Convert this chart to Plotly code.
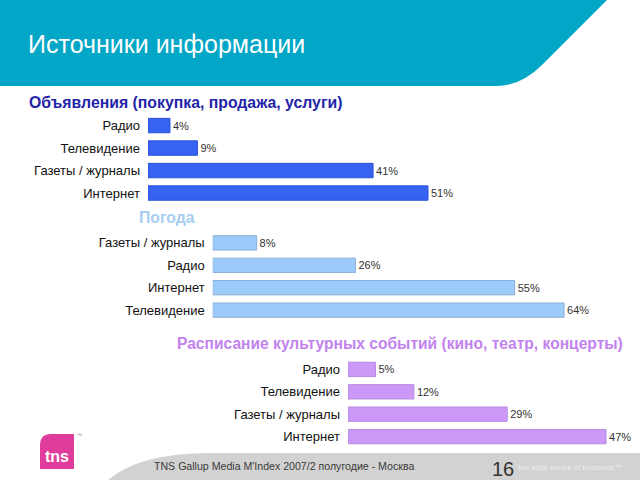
import plotly.graph_objects as go

# ---------------- data ----------------
ads_cats = ["Радио", "Телевидение", "Газеты / журналы", "Интернет"]
ads_vals = [4, 9, 41, 51]

weather_cats = ["Газеты / журналы", "Радио", "Интернет", "Телевидение"]
weather_vals = [8, 26, 55, 64]

culture_cats = ["Радио", "Телевидение", "Газеты / журналы", "Интернет"]
culture_vals = [5, 12, 29, 47]

main_title = "Источники информации"
panel_titles = [
    "Объявления (покупка, продажа, услуги)",
    "Погода",
    "Расписание культурных событий (кино, театр, концерты)",
]
footer_text = "TNS Gallup Media M'Index 2007/2 полугодие - Москва"
page_number = "16"
slogan = "the sixth sense of business™"

# ---------------- layout helpers ----------------
W, H = 640, 480
S = 5.49  # pixels per percentage point (same in all panels)

def px(x):
    return x / W

def py(y):
    return 1 - y / H

FONT = "Liberation Sans, Arial, sans-serif"

panels = [
    # cats, vals, fill, line, bar-start px, range max, y-center px, cat spacing px
    (ads_cats, ads_vals, "#3763F2", "#2A50D8", 148.0, 70, 159.3, 22.5),
    (weather_cats, weather_vals, "#9CCBFA", "#8DB0D8", 212.7, 70, 276.5, 22.4),
    (culture_cats, culture_vals, "#CC99F8", "#B58CE0", 348.0, 50, 403.0, 22.4),
]

fig = go.Figure()
layout_axes = {}
for i, (cats, vals, fill, line, x0, rmax, yc, sp) in enumerate(panels, start=1):
    xa = "x" if i == 1 else f"x{i}"
    ya = "y" if i == 1 else f"y{i}"
    fig.add_trace(go.Bar(
        x=vals, y=cats, orientation="h",
        xaxis=xa, yaxis=ya,
        marker=dict(color=fill, line=dict(color=line, width=1)),
        width=0.64,
        text=[f"{v}%" for v in vals],
        textposition="outside",
        textfont=dict(family=FONT, size=11, color="#333333"),
        cliponaxis=False,
        showlegend=False,
        hoverinfo="skip",
    ))
    xkey = "xaxis" if i == 1 else f"xaxis{i}"
    ykey = "yaxis" if i == 1 else f"yaxis{i}"
    layout_axes[xkey] = dict(
        domain=[px(x0), px(x0 + S * rmax)], range=[0, rmax],
        visible=False, fixedrange=True, anchor=ya,
    )
    half = 2 * sp
    layout_axes[ykey] = dict(
        domain=[py(yc + half), py(yc - half)],
        type="category", categoryarray=cats, categoryorder="array",
        autorange="reversed", showgrid=False, showline=False, zeroline=False,
        ticks="", ticklabelstandoff=7,
        tickfont=dict(family=FONT, size=13, color="#111111"),
        anchor=xa, fixedrange=True,
    )

fig.update_layout(**layout_axes)

shapes = [
    # teal header band with cut corner
    dict(type="path", xref="paper", yref="paper", layer="below",
         path=(f"M 0 1 L {px(607)} 1 L {px(543)} {py(64)} "
               f"Q {px(521)} {py(86)} {px(497)} {py(86)} L 0 {py(86)} Z"),
         fillcolor="#02A6C7", line=dict(width=0)),
    # grey footer swoosh
    dict(type="path", xref="paper", yref="paper", layer="below",
         path=(f"M {px(108)} 0 Q {px(140)} {py(453)} {px(210)} {py(453)} "
               f"L 1 {py(453)} L 1 0 Z"),
         fillcolor="#D2D2D2", line=dict(width=0)),
    # tns logo
    dict(type="path", xref="paper", yref="paper", layer="below",
         path=(f"M {px(40)} {py(444)} Q {px(41)} {py(434)} {px(50)} {py(434)} "
               f"L {px(74)} {py(434)} L {px(74)} {py(469)} L {px(40)} {py(469)} Z"),
         fillcolor="#E03C9C", line=dict(width=0)),
]

annotations = [
    dict(text=main_title, x=px(26), y=py(44), xref="paper", yref="paper",
         xanchor="left", yanchor="middle", showarrow=False,
         font=dict(family=FONT, size=25, color="white")),
    dict(text=f"<b>{panel_titles[0]}</b>", x=px(27), y=py(102), xref="paper", yref="paper",
         xanchor="left", yanchor="middle", showarrow=False,
         font=dict(family=FONT, size=15.8, color="#2424A8")),
    dict(text=f"<b>{panel_titles[1]}</b>", x=px(137), y=py(218), xref="paper", yref="paper",
         xanchor="left", yanchor="middle", showarrow=False,
         font=dict(family=FONT, size=15.8, color="#A6CDF2")),
    dict(text=f"<b>{panel_titles[2]}</b>", x=px(175), y=py(343), xref="paper", yref="paper",
         xanchor="left", yanchor="middle", showarrow=False,
         font=dict(family=FONT, size=15.6, color="#C283EE")),
    dict(text="<b>tns</b>", x=px(57), y=py(456), xref="paper", yref="paper",
         xanchor="center", yanchor="middle", showarrow=False,
         font=dict(family=FONT, size=16, color="white")),
    dict(text="™", x=px(75), y=py(435), xref="paper", yref="paper",
         xanchor="left", yanchor="middle", showarrow=False,
         font=dict(family=FONT, size=5, color="#888888")),
    dict(text=footer_text, x=px(152), y=py(466), xref="paper", yref="paper",
         xanchor="left", yanchor="middle", showarrow=False,
         font=dict(family=FONT, size=10.6, color="#3A3A3A")),
    dict(text=slogan, x=px(516), y=py(467), xref="paper", yref="paper",
         xanchor="left", yanchor="middle", showarrow=False,
         font=dict(family=FONT, size=8, color="#EDEDED")),
    dict(text=page_number, x=px(503), y=py(469), xref="paper", yref="paper",
         xanchor="center", yanchor="middle", showarrow=False,
         font=dict(family=FONT, size=20, color="#333333")),
]

fig.update_layout(
    width=W, height=H,
    margin=dict(l=0, r=0, t=0, b=0),
    paper_bgcolor="white", plot_bgcolor="rgba(0,0,0,0)",
    shapes=shapes, annotations=annotations,
    bargap=0.36,
)

fig.write_html("out.html", config=dict(displayModeBar=False))
